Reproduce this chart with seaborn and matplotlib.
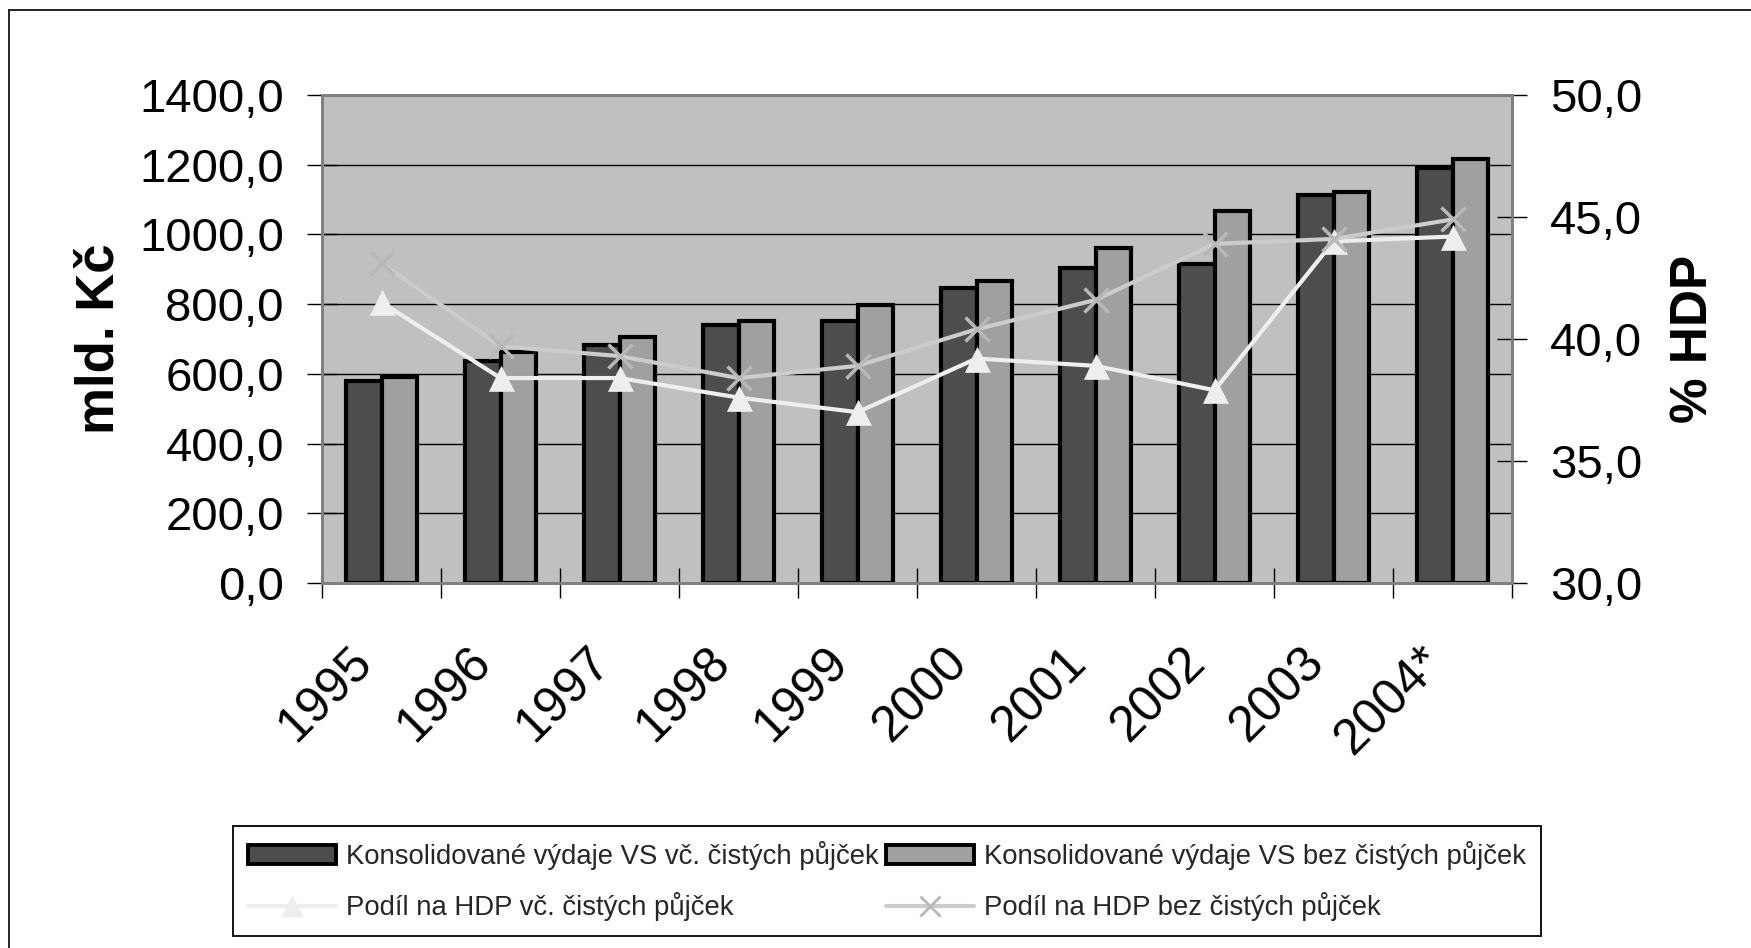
import numpy as np
import pandas as pd
import matplotlib
matplotlib.use("Agg")
import matplotlib.pyplot as plt
import matplotlib.transforms as mtransforms
from matplotlib.lines import Line2D
from matplotlib.patches import Patch
import seaborn as sns

# ---------------- data ----------------
years = ["1995", "1996", "1997", "1998", "1999", "2000", "2001", "2002", "2003", "2004*"]
vydaje_vc = [580, 638, 683, 741, 753, 845, 903, 916, 1112, 1192]
vydaje_bez = [592, 662, 707, 753, 797, 867, 961, 1066, 1123, 1217]
podil_vc = [41.5, 38.4, 38.4, 37.6, 37.0, 39.2, 38.9, 37.9, 44.0, 44.2]
podil_bez = [43.1, 39.7, 39.3, 38.4, 38.9, 40.4, 41.6, 43.9, 44.1, 44.9]

bar_names = ["Konsolidované výdaje VS vč. čistých půjček",
             "Konsolidované výdaje VS bez čistých půjček"]
line_names = ["Podíl na HDP vč. čistých půjček",
              "Podíl na HDP bez čistých půjček"]

left_ticks = [0, 200, 400, 600, 800, 1000, 1200, 1400]
left_labels = ["0,0", "200,0", "400,0", "600,0", "800,0", "1000,0", "1200,0", "1400,0"]
right_ticks = [30, 35, 40, 45, 50]
right_labels = ["30,0", "35,0", "40,0", "45,0", "50,0"]

left_title = "mld. Kč"
right_title = "% HDP"

# ---------------- style ----------------
sns.set_theme(style="white")
plt.rcParams["font.family"] = ["Liberation Sans", "DejaVu Sans"]

W, H = 1751, 948
fig = plt.figure(figsize=(W / 100, H / 100), dpi=100)
fig.patch.set_facecolor("white")

x0, x1, y0, y1 = 322, 1512, 95, 583
ax = fig.add_axes([x0 / W, 1 - y1 / H, (x1 - x0) / W, (y1 - y0) / H])
ax.set_facecolor("#c0c0c0")

dark, light = "#4d4d4d", "#a0a0a0"
tri_col, x_line_col, x_mark_col = "#eeeeee", "#cccccc", "#b8b8b8"

df_bars = pd.DataFrame({
    "rok": years * 2,
    "hodnota": vydaje_vc + vydaje_bez,
    "rada": [bar_names[0]] * len(years) + [bar_names[1]] * len(years),
})
sns.barplot(data=df_bars, x="rok", y="hodnota", hue="rada", order=years,
            hue_order=bar_names, palette=[dark, light], saturation=1,
            width=0.59, gap=0, edgecolor="black", linewidth=3.0,
            errorbar=None, legend=False, ax=ax)

ax.set_ylim(0, 1400)
ax.set_yticks(left_ticks)
ax.set_yticklabels(left_labels)
ax.yaxis.grid(True, color="black", linewidth=1.0)
ax.xaxis.grid(False)
ax.set_axisbelow(True)

ax2 = ax.twinx()
df_lines = pd.DataFrame({
    "rok": years * 2,
    "podil": podil_vc + podil_bez,
    "rada": [line_names[0]] * len(years) + [line_names[1]] * len(years),
})
sns.pointplot(data=df_lines, x="rok", y="podil", hue="rada", order=years,
              hue_order=line_names, palette=[tri_col, x_line_col],
              markers=["^", "x"], linestyles=["-", "-"], errorbar=None,
              legend=False, ax=ax2, markersize=17, linewidth=3)
for ln in ax2.lines:
    if ln.get_marker() == "^":
        ln.set_color(tri_col)
        ln.set_markerfacecolor(tri_col)
        ln.set_markeredgecolor(tri_col)
        ln.set_markeredgewidth(0.5)
        ln.set_markersize(18)
    elif ln.get_marker() == "x":
        ln.set_color(x_line_col)
        ln.set_markeredgecolor(x_mark_col)
        ln.set_markerfacecolor(x_mark_col)
        ln.set_markeredgewidth(2.5)
        ln.set_markersize(17)
ax2.set_ylim(30, 50)
ax2.set_yticks(right_ticks)
ax2.set_yticklabels(right_labels)
ax2.grid(False)

# x axis
ax.set_xlim(-0.5, len(years) - 0.5)
ax.set_xticks(range(len(years)))
ax.set_xticklabels(years, rotation=45, ha="right", va="top")
ax.set_xticks(np.arange(-0.5, len(years), 1.0), minor=True)
ax.tick_params(axis="x", which="major", length=0, pad=40, labelsize=36,
               bottom=True, labelcolor="black")
ax.tick_params(axis="x", which="minor", direction="inout", length=21.6,
               width=1, color="black", bottom=True)
shift = mtransforms.ScaledTranslation(0 / 100, 0, fig.dpi_scale_trans)
for lab in ax.get_xticklabels():
    lab.set_transform(lab.get_transform() + shift)
ax.set_xlabel("")

ax.tick_params(axis="y", direction="inout", length=21.6, width=1,
               color="black", pad=16.6, labelsize=34, left=True,
               labelcolor="black")
ax2.tick_params(axis="y", direction="inout", length=21.6, width=1,
                color="black", pad=16.6, labelsize=34, right=True,
                labelcolor="black")

for a in (ax, ax2):
    for s in a.spines.values():
        s.set_color("#808080")
        s.set_linewidth(2)
        s.set_visible(True)

ax.set_ylabel(left_title, fontsize=38, fontweight="bold", color="black")
ax.yaxis.set_label_coords((125 - x0) / (x1 - x0), 0.5)
ax2.set_ylabel(right_title, fontsize=37, fontweight="bold", color="black",
               rotation=90)
ax2.yaxis.set_label_coords((1669 - x0) / (x1 - x0), 0.5)

# legend
handles = [
    Patch(facecolor=dark, edgecolor="black", linewidth=2.8),
    Line2D([], [], color=tri_col, marker="^", markersize=14, lw=3,
           markeredgecolor=tri_col),
    Patch(facecolor=light, edgecolor="black", linewidth=2.8),
    Line2D([], [], color=x_line_col, marker="x", markersize=14, lw=3,
           markeredgecolor=x_mark_col, markeredgewidth=2),
]
labels = [bar_names[0], line_names[0], bar_names[1], line_names[1]]
lx0, lx1, ly0, ly1 = 233, 1541, 826, 938
leg = fig.legend(handles, labels, loc="upper left",
                 bbox_to_anchor=(lx0 / W, 1 - ly1 / H, (lx1 - lx0) / W, (ly1 - ly0) / H),
                 mode="expand", ncol=2, borderaxespad=0, frameon=True,
                 fancybox=False, edgecolor="black", framealpha=1,
                 prop={"family": ["Liberation Sans", "DejaVu Sans"], "size": 19.8},
                 handlelength=3.2, handleheight=0.65, handletextpad=0.35,
                 labelspacing=0.8, borderpad=0.55, columnspacing=1.0)
leg.get_frame().set_linewidth(1.3)

# outer border (top and left)
fig.add_artist(Line2D([9 / W, 1], [1 - 10 / H, 1 - 10 / H], transform=fig.transFigure,
                      color="black", lw=1.2))
fig.add_artist(Line2D([9 / W, 9 / W], [0, 1 - 10 / H], transform=fig.transFigure,
                      color="black", lw=1.2))

fig.savefig("out.png", dpi=100)
